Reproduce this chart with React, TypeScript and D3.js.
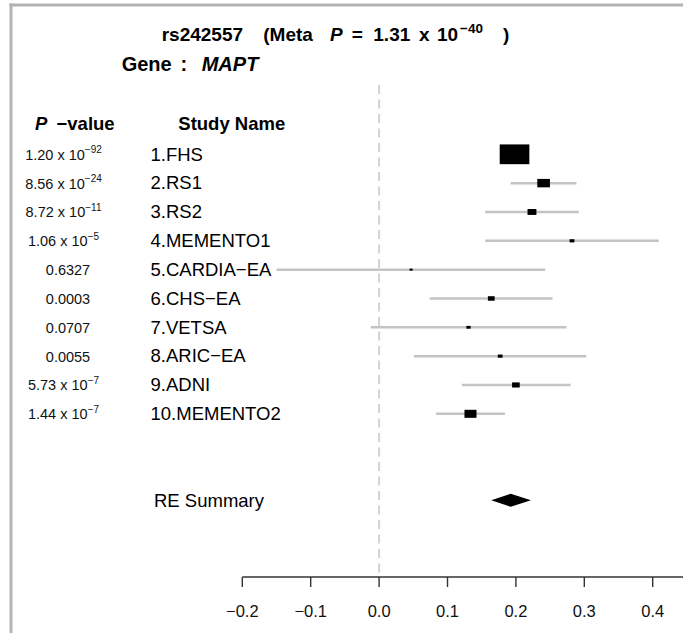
import React from "react";
import * as d3 from "d3";

const studies = [
  "1.FHS",
  "2.RS1",
  "3.RS2",
  "4.MEMENTO1",
  "5.CARDIA\u2212EA",
  "6.CHS\u2212EA",
  "7.VETSA",
  "8.ARIC\u2212EA",
  "9.ADNI",
  "10.MEMENTO2",
];
const pBase = [
  "1.20 x 10",
  "8.56 x 10",
  "8.72 x 10",
  "1.06 x 10",
  "0.6327",
  "0.0003",
  "0.0707",
  "0.0055",
  "5.73 x 10",
  "1.44 x 10",
];
const pExp = ["\u221292", "\u221224", "\u221211", "\u22125", "", "", "", "", "\u22127", "\u22127"];
const estimate = [0.198, 0.2405, 0.2235, 0.282, 0.0468, 0.164, 0.1307, 0.177, 0.2, 0.1336];
const lower = [0.178, 0.1925, 0.155, 0.155, -0.15, 0.074, -0.012, 0.0507, 0.121, 0.083];
const upper = [0.219, 0.2886, 0.292, 0.409, 0.243, 0.2535, 0.274, 0.303, 0.28, 0.184];
const summaryLabel = "RE Summary";
const summaryEst = [0.1925];
const summaryLower = [0.164];
const summaryUpper = [0.222];
const xTicks = [-0.2, -0.1, 0.0, 0.1, 0.2, 0.3, 0.4];

const W = 683;
const H = 633;
const FONT = "'Liberation Sans', Arial, Helvetica, sans-serif";

export default function App() {
  const x = d3.scaleLinear().domain([-0.2, 0.4]).range([242.3, 652.7]);
  const y = d3.scaleLinear().domain([0, 12]).range([154.3, 500.3]);
  // box width proportional to 1/se (se from 95% CI)
  const boxW = d3.scaleLinear().domain([0, 100]).range([0, 31]);
  const axisY = 577;
  const fmt = d3.format(".1f");

  const rows = studies.map((s, i) => {
    const se = (upper[i] - lower[i]) / 3.92;
    const w = boxW(1 / se);
    return { s, i, w, h: w / 1.5 };
  });

  const sy = y(12);
  const diamond =
    d3.line()([
      [x(summaryLower[0]), sy],
      [x(summaryEst[0]), sy - 6.5],
      [x(summaryUpper[0]), sy],
      [x(summaryEst[0]), sy + 6.5],
    ]) + "Z";

  return (
    <svg
      width={W}
      height={H}
      style={{ position: "absolute", left: 0, top: 0, background: "#fff" }}
      fontFamily={FONT}
    >
      <rect x={0} y={0} width={W} height={H} fill="#fff" />
      {/* frame */}
      <line x1={9.5} x2={W} y1={5} y2={5} stroke="#b3b3b3" strokeWidth={3} />
      <line x1={11} x2={11} y1={3.5} y2={H} stroke="#b3b3b3" strokeWidth={3} />

      {/* title */}
      <text y={41} fontSize={19} fontWeight="bold" fill="#000">
        <tspan x={161.7}>rs242557</tspan>
        <tspan x={263.3}>(Meta</tspan>
        <tspan x={330} fontStyle="italic">P</tspan>
        <tspan x={351.7}>=</tspan>
        <tspan x={373.3}>1.31</tspan>
        <tspan x={419}>x</tspan>
        <tspan x={437}>10</tspan>
        <tspan x={460} fontSize={13.5} dy={-8}>
          {"\u221240"}
        </tspan>
        <tspan x={503} dy={8}>
          )
        </tspan>
      </text>
      <text y={71} fontSize={20} fontWeight="bold" fill="#000">
        <tspan x={121.7}>Gene</tspan>
        <tspan x={180.5}>:</tspan>
        <tspan x={201.7} fontStyle="italic">
          MAPT
        </tspan>
      </text>

      {/* column headers */}
      <text y={130} fontSize={18.5} fontWeight="bold" fill="#000">
        <tspan x={35} fontStyle="italic">
          P
        </tspan>
        <tspan x={56.5}>{"\u2212value"}</tspan>
      </text>
      <text x={178.3} y={130} fontSize={18.5} fontWeight="bold" fill="#000">
        Study Name
      </text>

      {/* zero line */}
      <line
        x1={x(0)}
        x2={x(0)}
        y1={85}
        y2={axisY}
        stroke="#d3d3d3"
        strokeWidth={2}
        strokeDasharray="9,5.5"
      />

      {rows.map(({ s, i, w, h }) => (
        <g key={s}>
          <text
            x={pExp[i] ? 63.5 : 68}
            y={y(i) + 5.5}
            fontSize={14.5}
            textAnchor="middle"
            fill="#111"
          >
            <tspan>{pBase[i]}</tspan>
            {pExp[i] ? (
              <tspan fontSize={10} dy={-6.5}>
                {pExp[i]}
              </tspan>
            ) : null}
          </text>
          <text x={150.5} y={y(i) + 6.3} fontSize={18.5} fill="#000">
            {s}
          </text>
          <line
            x1={x(lower[i])}
            x2={x(upper[i])}
            y1={y(i)}
            y2={y(i)}
            stroke="#c4c4c4"
            strokeWidth={2.5}
          />
          <rect
            x={x(estimate[i]) - w / 2}
            y={y(i) - h / 2}
            width={w}
            height={h}
            fill="#000"
          />
        </g>
      ))}

      {/* summary */}
      <text x={154} y={sy + 6.4} fontSize={18.5} fill="#000">
        {summaryLabel}
      </text>
      <path d={diamond} fill="#000" />

      {/* axis */}
      <line x1={x(-0.2)} x2={W} y1={axisY} y2={axisY} stroke="#333" strokeWidth={1.4} />
      {xTicks.map((t) => (
        <g key={t}>
          <line x1={x(t)} x2={x(t)} y1={axisY} y2={axisY + 10} stroke="#333" strokeWidth={1.4} />
          <text x={x(t)} y={616.7} fontSize={16.5} textAnchor="middle" fill="#111">
            {fmt(t)}
          </text>
        </g>
      ))}
    </svg>
  );
}
